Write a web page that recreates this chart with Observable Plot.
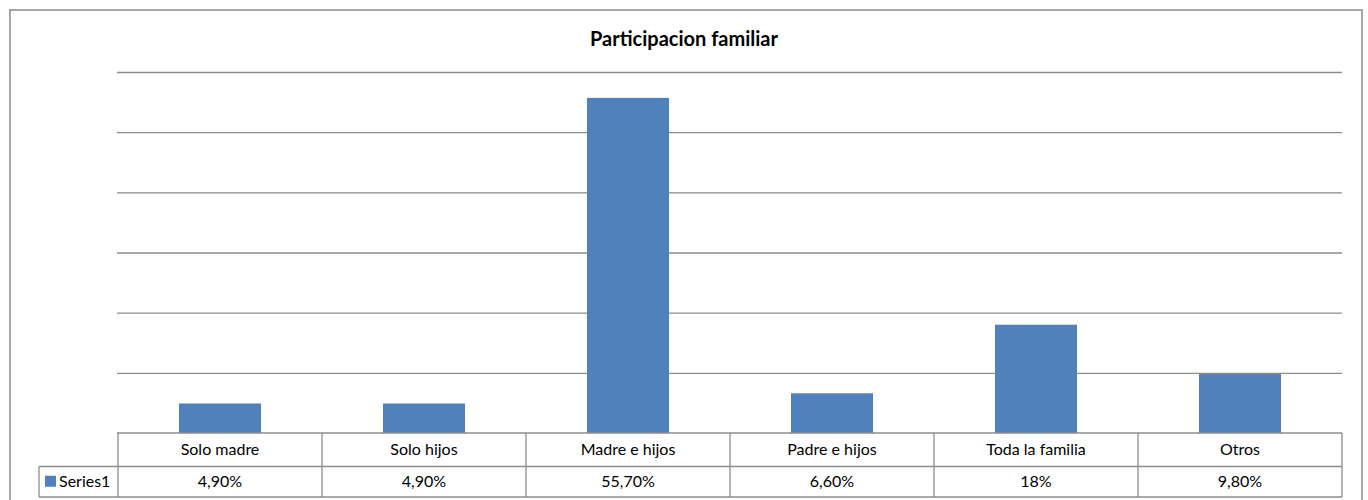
<!DOCTYPE html>
<html><head><meta charset="utf-8">
<script src="https://cdn.jsdelivr.net/npm/d3@7"></script>
<script src="https://cdn.jsdelivr.net/npm/@observablehq/plot@0.6"></script>
<style>
body{margin:0;background:#fff;}
#wrap{position:relative;width:1368px;height:500px;overflow:hidden;font-family:Lato, "Open Sans", sans-serif;}
#frame{position:absolute;left:9px;top:9px;width:1354px;height:530px;border:2px solid #a6a6a6;box-sizing:border-box;}
#title{position:absolute;left:0;width:1368px;top:26px;text-align:center;font-weight:bold;font-size:20px;color:#000;}
#chart{position:absolute;left:0;top:0;}
</style></head><body>
<div id="wrap"><div id="frame"></div><div id="chart"></div><div id="title">Participacion familiar</div></div>
<script>
const categories = ["Solo madre","Solo hijos","Madre e hijos","Padre e hijos","Toda la familia","Otros"];
const values = [4.9, 4.9, 55.7, 6.6, 18, 9.8];
const valueLabels = ["4,90%","4,90%","55,70%","6,60%","18%","9,80%"];
const seriesName = "Series1";
const yTicks = [0, 10, 20, 30, 40, 50, 60];

const data = categories.map((c, i) => ({category: c, value: values[i], label: valueLabels[i]}));
const barColor = "#4f81bd";
const lineColor = "#8c8c8c";

const chart = Plot.plot({
  width: 1368, height: 500,
  marginTop: 72, marginBottom: 67, marginLeft: 117, marginRight: 26,
  style: {background: "transparent", fontFamily: "Lato, 'Open Sans', sans-serif"},
  x: {domain: categories, padding: 0, axis: null},
  y: {domain: [0, 60], axis: null},
  marks: [
    Plot.ruleY(yTicks.slice(1), {stroke: lineColor, strokeWidth: 1.3}),
    Plot.barY(data, {x: "category", y: "value", fill: barColor, insetLeft: 61, insetRight: 61})
  ]
});
document.getElementById("chart").appendChild(chart);

// data table under the plot, positioned through the plot's scales
const xs = chart.scale("x"), ys = chart.scale("y");
const bw = xs.bandwidth;
const xL = xs.range[0], xR = xs.range[1];
const yTop = ys.apply(0);
const r1 = 33.5, r2 = 30.5;
const yMid = yTop + r1, yBot = yMid + r2;
const legendLeft = 39;
const svg = d3.select(chart);
const g = svg.append("g").attr("stroke", lineColor).attr("stroke-width", 1.3).attr("fill", "none");
g.append("line").attr("x1", xL).attr("x2", xR).attr("y1", yTop).attr("y2", yTop);
g.append("line").attr("x1", legendLeft).attr("x2", xR).attr("y1", yMid).attr("y2", yMid);
g.append("line").attr("x1", legendLeft).attr("x2", xR).attr("y1", yBot).attr("y2", yBot);
g.append("line").attr("x1", legendLeft).attr("x2", legendLeft).attr("y1", yMid).attr("y2", yBot);
categories.forEach(c => {
  const x = xs.apply(c);
  g.append("line").attr("x1", x).attr("x2", x).attr("y1", yTop).attr("y2", yBot);
});
g.append("line").attr("x1", xR).attr("x2", xR).attr("y1", yTop).attr("y2", yBot);

const t = svg.append("g").attr("font-size", 16).attr("fill", "#000").attr("text-anchor", "middle");
data.forEach(d => {
  const cx = xs.apply(d.category) + bw / 2;
  t.append("text").attr("x", cx).attr("y", yTop + r1 / 2).attr("dy", "0.35em").text(d.category);
  t.append("text").attr("x", cx).attr("y", yMid + r2 / 2).attr("dy", "0.35em").text(d.label);
});
svg.append("rect").attr("x", 45).attr("y", yMid + r2 / 2 - 6).attr("width", 11).attr("height", 11).attr("fill", barColor).attr("stroke", "none");
svg.append("text").attr("x", 59).attr("y", yMid + r2 / 2).attr("dy", "0.35em").attr("font-size", 16).attr("text-anchor", "start").attr("fill", "#000").text(seriesName);
</script>
</body></html>
